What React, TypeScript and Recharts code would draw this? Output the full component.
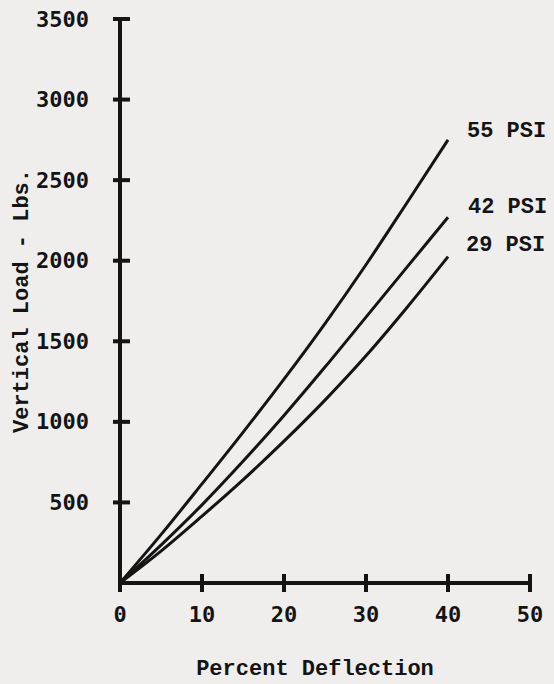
import { LineChart, Line, XAxis, YAxis, Label } from 'recharts'

const deflection = [0, 5, 10, 15, 20, 25, 30, 35, 40]
const psi55 = [0, 300, 615, 935, 1265, 1610, 1975, 2360, 2750]
const psi42 = [0, 235, 485, 755, 1040, 1340, 1650, 1960, 2270]
const psi29 = [0, 198, 415, 640, 880, 1135, 1410, 1710, 2025]
const seriesNames = ['55 PSI', '42 PSI', '29 PSI']
const xTicks = [0, 10, 20, 30, 40, 50]
const yTicks = [500, 1000, 1500, 2000, 2500, 3000, 3500]

const data = deflection.map((x, i) => ({ x, p55: psi55[i], p42: psi42[i], p29: psi29[i] }))

const ink = '#141414'
const tickFont = '"DejaVu Sans Mono", monospace'
const titleFont = '"Liberation Mono", "Courier New", monospace'

// label nudges for the end-of-line captions
const captionShift = [
  { dx: 19, dy: -8 },
  { dx: 20, dy: -10 },
  { dx: 18, dy: -11 },
]

const XTick = ({ x, y, payload }: any) => (
  <g>
    <line x1={x} x2={x} y1={y - 9} y2={y + 9} stroke={ink} strokeWidth={4} />
    <text x={x} y={y + 31} textAnchor="middle" dominantBaseline="central" fill={ink}
      fontFamily={tickFont} fontWeight="bold" fontSize={22}>
      {payload.value}
    </text>
  </g>
)

const YTick = ({ x, y, payload }: any) => (
  <g>
    <line x1={x - 7} x2={x + 10} y1={y} y2={y} stroke={ink} strokeWidth={4} />
    <text x={x - 31} y={y} textAnchor="end" dominantBaseline="central" fill={ink}
      fontFamily={tickFont} fontWeight="bold" fontSize={22}>
      {payload.value}
    </text>
  </g>
)

const endCaption = (name: string, shift: { dx: number; dy: number }) => (props: any) => {
  if (props.index !== deflection.length - 1) return <g />
  return (
    <text x={props.x + shift.dx} y={props.y + shift.dy} dominantBaseline="central" fill={ink}
      fontFamily={titleFont} fontWeight="bold" fontSize={22}>
      {name}
    </text>
  )
}

export default function App() {
  const keys = ['p55', 'p42', 'p29']
  return (
    <div style={{ position: 'absolute', left: 0, top: 0, width: 554, height: 684, background: '#efeeed' }}>
      <LineChart width={554} height={684} data={data} margin={{ top: 19, right: 24, bottom: 0, left: 0 }}>
        <XAxis
          dataKey="x"
          type="number"
          domain={[0, 50]}
          ticks={xTicks}
          height={101}
          tickSize={0}
          tickMargin={0}
          tick={<XTick />}
          axisLine={{ stroke: ink, strokeWidth: 4 }}
          tickLine={false}
        >
          <Label
            content={({ viewBox }: any) => (
              <text x={viewBox.x + viewBox.width / 2 - 10} y={viewBox.y + 86} textAnchor="middle"
                dominantBaseline="central" fill={ink} fontFamily={titleFont} fontWeight="bold" fontSize={22}>
                Percent Deflection
              </text>
            )}
          />
        </XAxis>
        <YAxis
          type="number"
          domain={[0, 3500]}
          ticks={yTicks}
          width={120}
          tickSize={0}
          tickMargin={0}
          tick={<YTick />}
          axisLine={{ stroke: ink, strokeWidth: 4 }}
          tickLine={false}
          interval={0}
        >
          <Label
            content={({ viewBox }: any) => {
              const cx = viewBox.x + 22
              const cy = viewBox.y + viewBox.height / 2
              return (
                <text x={cx} y={cy} transform={`rotate(-90 ${cx} ${cy})`} textAnchor="middle"
                  dominantBaseline="central" fill={ink} fontFamily={titleFont} fontWeight="bold" fontSize={22}>
                  Vertical Load - Lbs.
                </text>
              )
            }}
          />
        </YAxis>
        {keys.map((k, i) => (
          <Line
            key={k}
            type="monotone"
            dataKey={k}
            stroke={ink}
            strokeWidth={3}
            dot={false}
            isAnimationActive={false}
            label={endCaption(seriesNames[i], captionShift[i])}
          />
        ))}
      </LineChart>
    </div>
  )
}
